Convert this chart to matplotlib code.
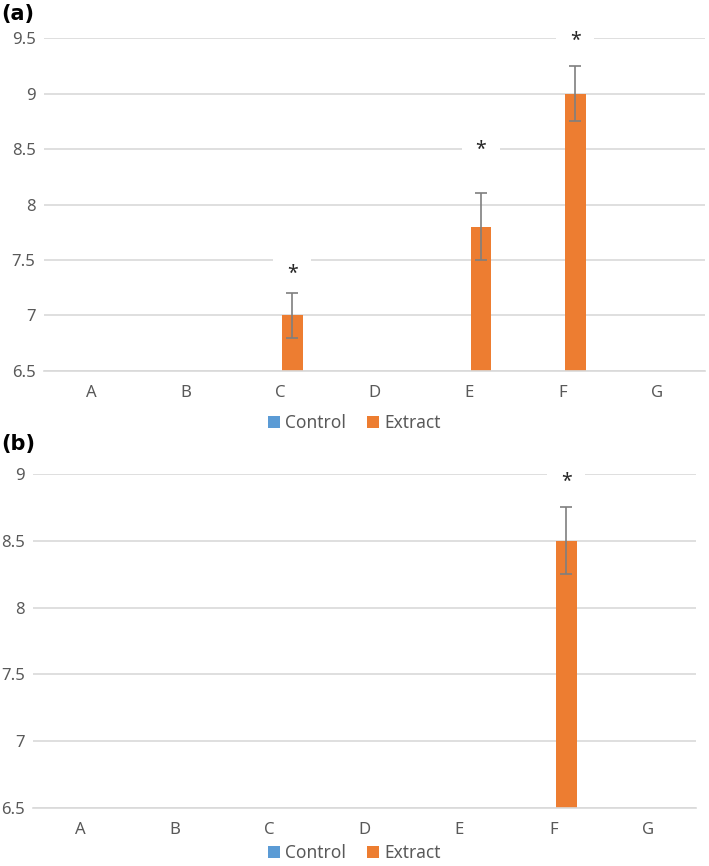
import numpy as np
import matplotlib.pyplot as plt

plt.rcParams['font.family'] = ['Noto Sans', 'DejaVu Sans']

# ---- data ----
categories = ['A', 'B', 'C', 'D', 'E', 'F', 'G']
# bars that do not show in the picture sit at (or below) the 6.5 axis floor
control_a = [6.5, 6.5, 6.5, 6.5, 6.5, 6.5, 6.5]
extract_a = [6.5, 6.5, 7.0, 6.5, 7.8, 9.0, 6.5]
err_a = [0, 0, 0.2, 0, 0.3, 0.25, 0]
stars_a = {2: 7.37, 4: 8.49, 5: 9.47}   # category index -> asterisk height

control_b = [6.5, 6.5, 6.5, 6.5, 6.5, 6.5, 6.5]
extract_b = [6.5, 6.5, 6.5, 6.5, 6.5, 8.5, 6.5]
err_b = [0, 0, 0, 0, 0, 0.25, 0]
stars_b = {5: 8.94}

blue = '#5B9BD5'
orange = '#ED7D31'
grid_c = '#D9D9D9'
text_c = '#595959'

fig = plt.figure(figsize=(7.09, 8.66), dpi=100)
ax_a = fig.add_axes([0.062, 0.5716, 0.932, 0.3845])
ax_b = fig.add_axes([0.0465, 0.067, 0.935, 0.3857])


def draw_panel(ax, control, extract, err, stars, ymax, yticks, ylabels):
    x = np.arange(len(categories))
    w = 0.22
    off = 0.13
    ax.bar(x - off, np.array(control) - 6.5, w, bottom=6.5, color=blue, label='Control')
    ax.bar(x + off, np.array(extract) - 6.5, w, bottom=6.5, color=orange, label='Extract')
    idx = [i for i in range(len(err)) if err[i] > 0]
    ax.errorbar(x[idx] + off, np.array(extract)[idx], yerr=np.array(err)[idx],
                fmt='none', ecolor='#7F7F7F', elinewidth=1.2, capsize=4, capthick=1.2,
                zorder=6)
    for i, yv in stars.items():
        ax.text(x[i] + off, yv, '*', ha='center', va='center', fontsize=14,
                color='#262626', zorder=5,
                bbox=dict(facecolor='white', edgecolor='none', boxstyle='square,pad=0.7'))
    ax.set_xlim(-0.5, len(categories) - 0.5)
    ax.set_ylim(6.5, ymax)
    ax.set_yticks(yticks)
    ax.set_yticklabels(ylabels)
    ax.set_xticks(x)
    ax.set_xticklabels(categories)
    ax.tick_params(length=0, labelsize=12, colors=text_c)
    ax.tick_params(axis='x', pad=10)
    ax.tick_params(axis='y', pad=6)
    ax.yaxis.grid(True, color=grid_c, lw=1.2)
    ax.set_axisbelow(True)
    for s in ['top', 'right', 'left']:
        ax.spines[s].set_visible(False)
    ax.spines['bottom'].set_color(grid_c)
    ax.spines['bottom'].set_linewidth(1.2)


draw_panel(ax_a, control_a, extract_a, err_a, stars_a, 9.5,
           [6.5, 7, 7.5, 8, 8.5, 9, 9.5], ['6.5', '7', '7.5', '8', '8.5', '9', '9.5'])
draw_panel(ax_b, control_b, extract_b, err_b, stars_b, 9.0,
           [6.5, 7, 7.5, 8, 8.5, 9], ['6.5', '7', '7.5', '8', '8.5', '9'])

for ax, ly in [(ax_a, 0.5115), (ax_b, 0.015)]:
    h, l = ax.get_legend_handles_labels()
    fig.legend(h, l, loc='center', bbox_to_anchor=(0.5, ly), ncol=2, frameon=False,
               fontsize=12.5, handlelength=0.7, handleheight=0.7, handletextpad=0.3,
               columnspacing=1.2, labelcolor=text_c)

fig.text(0.002, 0.995, '(a)', fontsize=15, fontweight='bold', va='top', ha='left',
         family='DejaVu Sans')
fig.text(0.002, 0.499, '(b)', fontsize=15, fontweight='bold', va='top', ha='left',
         family='DejaVu Sans')

fig.savefig('out.png', dpi=100, facecolor='white')
